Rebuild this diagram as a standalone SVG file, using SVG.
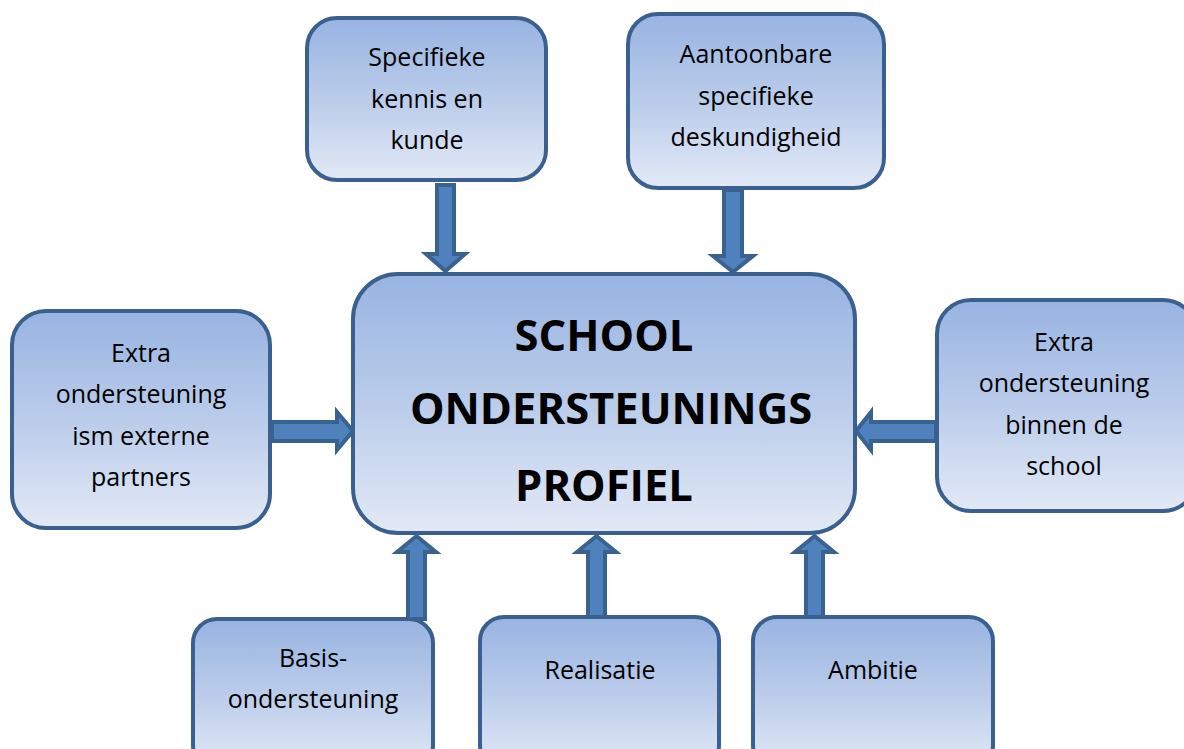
<svg xmlns="http://www.w3.org/2000/svg" width="1184" height="749" viewBox="0 0 1184 749">
<defs>
<linearGradient id="g" x1="0" y1="0" x2="0" y2="1">
<stop offset="0" stop-color="#98B4E2"/>
<stop offset="0.5" stop-color="#BACCEA"/>
<stop offset="1" stop-color="#E2E9F6"/>
</linearGradient>
<style>
.box{fill:url(#g);stroke:#3B6090;stroke-width:4}
.arr{fill:#4F81BD;stroke:#3A6291;stroke-width:4;stroke-linejoin:miter}
.t{font-family:"Open Sans","Liberation Sans",sans-serif;font-size:25px;fill:#000;text-anchor:middle}
.c{font-family:"Open Sans","Liberation Sans",sans-serif;font-size:43.5px;font-weight:bold;fill:#000;text-anchor:middle}
</style>
</defs>
<rect width="1184" height="749" fill="#fff"/>
<g id="connectors">
<path class="arr" d="M437,185 H454 V254 H465 L445.5,271 L426,254 H437 Z"/>
<path class="arr" d="M724,190 H742 V256 H753 L733,272 L713,256 H724 Z"/>
<path class="arr" d="M272,422 H337 V412 L353,431 L337,450 V441 H272 Z"/>
<path class="arr" d="M936,422 H871 V412 L856,431 L871,450 V441 H936 Z"/>
<path class="arr" d="M408,619 V552 H397 L416.5,536 L436,552 H425 V619 Z"/>
<path class="arr" d="M588,617 V552 H577 L596.5,536 L616,552 H605 V617 Z"/>
<path class="arr" d="M806,617 V552 H795 L814.5,536 L834,552 H823 V617 Z"/>
</g>
<g id="n-specifieke">
<rect class="box" x="307" y="18" width="239" height="162" rx="30"/>
<text class="t" x="427" y="66">Specifieke</text>
<text class="t" x="427" y="108">kennis en</text>
<text class="t" x="427" y="149">kunde</text>
</g>
<g id="n-aantoonbare">
<rect class="box" x="628" y="14" width="256" height="174" rx="30"/>
<text class="t" x="756" y="63">Aantoonbare</text>
<text class="t" x="756" y="105">specifieke</text>
<text class="t" x="756" y="146">deskundigheid</text>
</g>
<g id="n-center">
<rect class="box" x="353" y="274" width="502" height="259" rx="45"/>
<text class="c" x="604" y="351">SCHOOL</text>
<text class="c" x="611" y="424">ONDERSTEUNINGS</text>
<text class="c" x="604" y="501">PROFIEL</text>
</g>
<g id="n-extern">
<rect class="box" x="12" y="311" width="258" height="217" rx="34"/>
<text class="t" x="141" y="362">Extra</text>
<text class="t" x="141" y="403">ondersteuning</text>
<text class="t" x="141" y="445">ism externe</text>
<text class="t" x="141" y="486">partners</text>
</g>
<g id="n-binnen">
<rect class="box" x="937" y="300" width="260" height="211" rx="34"/>
<text class="t" x="1064" y="351">Extra</text>
<text class="t" x="1064" y="392">ondersteuning</text>
<text class="t" x="1064" y="434">binnen de</text>
<text class="t" x="1064" y="475">school</text>
</g>
<g id="n-basis">
<rect class="box" x="193" y="619" width="240" height="150" rx="24"/>
<text class="t" x="313" y="667">Basis-</text>
<text class="t" x="313" y="708">ondersteuning</text>
</g>
<g id="n-realisatie">
<rect class="box" x="480" y="617" width="239" height="152" rx="24"/>
<text class="t" x="600" y="679">Realisatie</text>
</g>
<g id="n-ambitie">
<rect class="box" x="753" y="617" width="240" height="152" rx="24"/>
<text class="t" x="873" y="679">Ambitie</text>
</g>
</svg>
